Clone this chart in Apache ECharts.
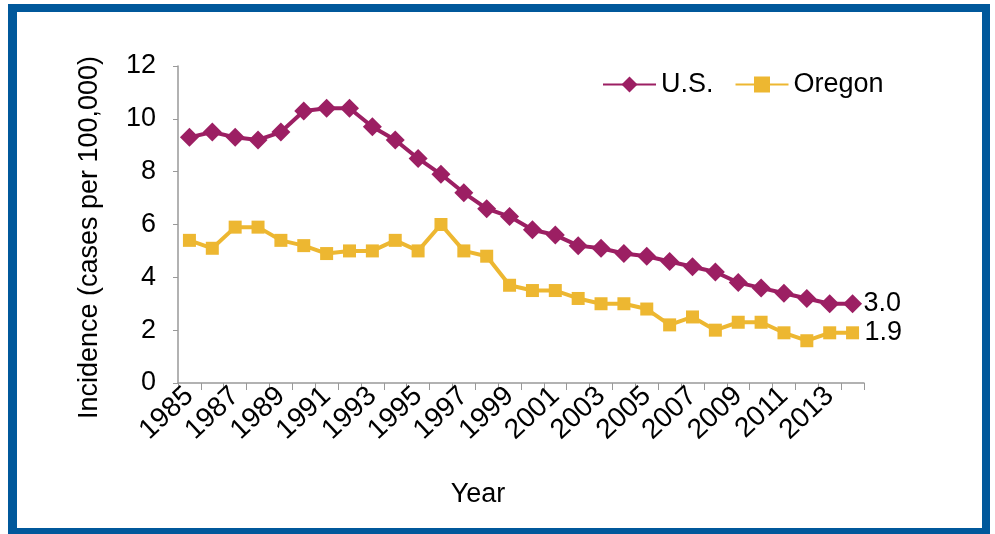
<!DOCTYPE html>
<html>
<head>
<meta charset="utf-8">
<style>
    html, body {
        margin: 0;
        padding: 0;
        background: #fff;
    }
    #chart {
        width: 995px;
        height: 534px;
    }
</style>
<script src="https://cdn.jsdelivr.net/npm/echarts@6/dist/echarts.min.js"></script>
</head>
<body>
<div id="chart"></div>
<script>
    var years = [];
    for (var y = 1985; y <= 2014; y++) {
        years.push(String(y));
    }
    var usValues = [9.3, 9.5, 9.3, 9.2, 9.5, 10.3, 10.4, 10.4, 9.7, 9.2,
                    8.5, 7.9, 7.2, 6.6, 6.3, 5.8, 5.6, 5.2, 5.1, 4.9,
                    4.8, 4.6, 4.4, 4.2, 3.8, 3.6, 3.4, 3.2, 3.0, 3.0];
    var oregonValues = [5.4, 5.1, 5.9, 5.9, 5.4, 5.2, 4.9, 5.0, 5.0, 5.4,
                        5.0, 6.0, 5.0, 4.8, 3.7, 3.5, 3.5, 3.2, 3.0, 3.0,
                        2.8, 2.2, 2.5, 2.0, 2.3, 2.3, 1.9, 1.6, 1.9, 1.9];
    var yTicks = [0, 2, 4, 6, 8, 10, 12];

    var font = '"Liberation Sans", Arial, sans-serif';
    var chart = echarts.init(document.getElementById('chart'));

    var option = {
        animation: false,
        textStyle: { fontFamily: font },
        graphic: [
            // blue frame around the picture
            { type: 'rect', z: -10, silent: true,
              shape: { x: 8, y: 4, width: 982, height: 540 },
              style: { fill: '#00589B' } },
            { type: 'rect', z: -9, silent: true,
              shape: { x: 17, y: 12, width: 965, height: 516 },
              style: { fill: '#ffffff' } }
        ],
        legend: {
            left: 597,
            top: 66,
            itemWidth: 53,
            itemHeight: 20,
            itemGap: 21,
            textStyle: { fontSize: 27, color: '#000', fontFamily: font },
            data: ['U.S.', 'Oregon']
        },
        grid: {
            left: 178,
            right: 131,
            top: 66,
            bottom: 151
        },
        xAxis: {
            type: 'category',
            data: years,
            boundaryGap: true,
            name: 'Year',
            nameLocation: 'middle',
            nameGap: 98,
            nameTextStyle: { fontSize: 27, color: '#000', padding: [0, 86, 0, 0] },
            axisLine: { lineStyle: { color: '#999', width: 1.5 } },
            axisTick: { show: true, interval: 0, length: 7, lineStyle: { color: '#999' } },
            axisLabel: {
                interval: 1,
                rotate: 43,
                margin: 9,
                fontSize: 28,
                color: '#000'
            }
        },
        yAxis: {
            type: 'value',
            min: yTicks[0],
            max: yTicks[yTicks.length - 1],
            interval: 2,
            name: 'Incidence (cases per 100,000)',
            nameLocation: 'middle',
            nameGap: 75,
            nameTextStyle: { fontSize: 27, color: '#000', padding: [0, 26, 0, 0] },
            axisLine: { show: true, lineStyle: { color: '#999', width: 1.5 } },
            axisTick: { show: true, length: 5, lineStyle: { color: '#999' } },
            splitLine: { show: false },
            axisLabel: { margin: 22, fontSize: 27, color: '#000' }
        },
        series: [
            {
                name: 'U.S.',
                type: 'line',
                data: usValues,
                color: '#9C1F63',
                symbol: 'diamond',
                symbolSize: 19,
                showAllSymbol: true,
                lineStyle: { width: 4 },
                endLabel: {
                    show: true,
                    distance: 11,
                    fontSize: 27,
                    color: '#000',
                    formatter: function (p) { return p.value.toFixed(1); }
                }
            },
            {
                name: 'Oregon',
                type: 'line',
                data: oregonValues,
                color: '#EDB731',
                symbol: 'rect',
                symbolSize: 13,
                showAllSymbol: true,
                lineStyle: { width: 4 },
                endLabel: {
                    show: true,
                    distance: 12,
                    fontSize: 27,
                    color: '#000',
                    formatter: function (p) { return p.value.toFixed(1); }
                }
            }
        ]
    };

    chart.setOption(option);
</script>
</body>
</html>
